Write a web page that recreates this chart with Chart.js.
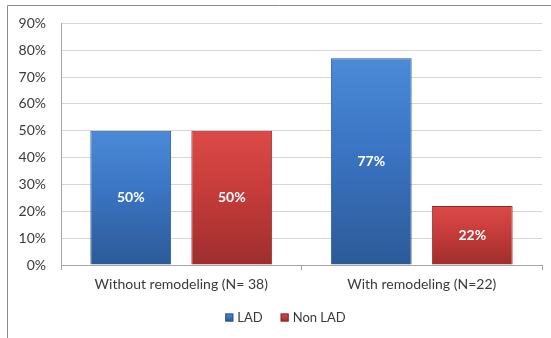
<!DOCTYPE html>
<html>
<head>
<meta charset="utf-8">
<script src="https://cdn.jsdelivr.net/npm/chart.js@4/dist/chart.umd.min.js"></script>
<style>
  html, body { margin: 0; padding: 0; background: #ffffff; }
  #wrap { position: relative; width: 551px; height: 338px; }
</style>
</head>
<body>
<div id="wrap"><canvas id="c" width="551" height="338"></canvas></div>
<script>
const categories = ['Without remodeling (N= 38)', 'With remodeling (N=22)'];
const seriesNames = ['LAD', 'Non LAD'];
const ladValues = [50, 77];
const nonLadValues = [50, 22];
const yTicks = [0, 10, 20, 30, 40, 50, 60, 70, 80, 90];

const FONT = 'Lato, "Open Sans", sans-serif';
const TEXT = '#3a3a3a';

const palettes = {
  blue: { top: '#4b8ad8', mid: '#3a74c2', bottom: '#2c5a97', edge: '#2a558f' },
  red:  { top: '#dc4a48', mid: '#c53c3a', bottom: '#9e2e2d', edge: '#8f2a29' }
};
const seriesPalettes = [palettes.blue, palettes.red];

function barFill(pal) {
  return function (ctx) {
    const chart = ctx.chart;
    const area = chart.chartArea;
    if (!area || !ctx.parsed) return pal.mid;
    const ys = chart.scales.y;
    const top = ys.getPixelForValue(ctx.parsed.y);
    const base = ys.getPixelForValue(0);
    const g = chart.ctx.createLinearGradient(0, top, 0, base);
    g.addColorStop(0, pal.top);
    g.addColorStop(0.45, pal.mid);
    g.addColorStop(1, pal.bottom);
    return g;
  };
}

// Outer frame: top and left border lines
const framePlugin = {
  id: 'frame',
  beforeDraw(chart) {
    const c = chart.ctx;
    c.save();
    c.strokeStyle = '#8c8c8c';
    c.lineWidth = 1;
    c.beginPath();
    c.moveTo(7.5, 338);
    c.lineTo(7.5, 5.5);
    c.lineTo(551, 5.5);
    c.stroke();
    c.restore();
  }
};

// White value labels centred in each bar
const valueLabels = {
  id: 'valueLabels',
  afterDatasetsDraw(chart) {
    const c = chart.ctx;
    c.save();
    c.fillStyle = '#ffffff';
    c.font = 'bold 14px ' + FONT;
    c.textAlign = 'center';
    c.textBaseline = 'middle';
    chart.data.datasets.forEach((ds, i) => {
      chart.getDatasetMeta(i).data.forEach((bar, j) => {
        const y = (bar.y + bar.base) / 2;
        c.fillText(ds.data[j] + '%', bar.x, y);
      });
    });
    c.restore();
  }
};

// Compact legend row under the category labels
const legendRow = {
  id: 'legendRow',
  afterDraw(chart) {
    const c = chart.ctx;
    const box = 8, gapText = 4, gapItem = 18, cx = 285.5, cy = 317.5;
    c.save();
    c.font = '13px ' + FONT;
    c.textBaseline = 'middle';
    const items = chart.data.datasets.map((ds, i) => ({
      text: ds.label, pal: seriesPalettes[i], w: c.measureText(ds.label).width
    }));
    let total = 0;
    items.forEach((it, i) => { total += box + gapText + it.w + (i ? gapItem : 0); });
    let x = cx - total / 2;
    items.forEach((it, i) => {
      if (i) x += gapItem;
      const g = c.createLinearGradient(0, cy - box / 2, 0, cy + box / 2);
      g.addColorStop(0, it.pal.top);
      g.addColorStop(1, it.pal.bottom);
      c.fillStyle = g;
      c.fillRect(x, cy - box / 2, box, box);
      c.strokeStyle = it.pal.edge;
      c.lineWidth = 1;
      c.strokeRect(x + 0.5, cy - box / 2 + 0.5, box - 1, box - 1);
      x += box + gapText;
      c.fillStyle = TEXT;
      c.fillText(it.text, x, cy + 0.5);
      x += it.w;
    });
    c.restore();
  }
};

new Chart(document.getElementById('c'), {
  type: 'bar',
  data: {
    labels: categories,
    datasets: [
      {
        label: seriesNames[0],
        data: ladValues,
        backgroundColor: barFill(palettes.blue),
        borderColor: palettes.blue.edge,
        borderWidth: 1,
        categoryPercentage: 0.84,
        barPercentage: 0.8
      },
      {
        label: seriesNames[1],
        data: nonLadValues,
        backgroundColor: barFill(palettes.red),
        borderColor: palettes.red.edge,
        borderWidth: 1,
        categoryPercentage: 0.84,
        barPercentage: 0.8
      }
    ]
  },
  options: {
    responsive: false,
    animation: false,
    layout: { padding: { left: 0, right: 9, top: 14, bottom: 33 } },
    plugins: {
      legend: { display: false },
      tooltip: { enabled: false }
    },
    scales: {
      x: {
        afterFit(axis) { axis.height = 40; },
        grid: {
          offset: true,
          drawOnChartArea: false,
          drawTicks: true,
          tickLength: 5,
          color: '#a6a6a6'
        },
        border: { color: '#a6a6a6' },
        ticks: {
          color: TEXT,
          font: { family: FONT, size: 14 },
          padding: 6
        }
      },
      y: {
        min: 0,
        max: 90,
        afterBuildTicks(axis) {
          axis.ticks = yTicks.map(v => ({ value: v }));
        },
        afterFit(axis) { axis.width = 61; },
        grid: {
          color: '#d6d6d6',
          drawTicks: false
        },
        border: { color: '#a6a6a6' },
        ticks: {
          color: TEXT,
          font: { family: FONT, size: 14 },
          padding: 15,
          callback: v => v + '%'
        }
      }
    }
  },
  plugins: [framePlugin, valueLabels, legendRow]
});
</script>
</body>
</html>
